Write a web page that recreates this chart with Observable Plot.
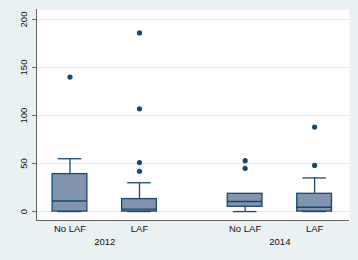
<!DOCTYPE html>
<html><head><meta charset="utf-8">
<script src="https://cdn.jsdelivr.net/npm/d3@7"></script>
<script src="https://cdn.jsdelivr.net/npm/@observablehq/plot@0.6"></script>
<style>
html,body{margin:0;padding:0;background:#e9f1f3;}
</style></head>
<body><div id="chart"></div>
<script>
const years = ["2012", "2014"];
const groups = ["No LAF", "LAF"];
// one entry per box: 2012 No LAF, 2012 LAF, 2014 No LAF, 2014 LAF
const q1 = [0, 0, 5, 0];
const medians = [11, 2.5, 10.5, 4.5];
const q3 = [39, 13, 18.5, 18.5];
const whiskerLo = [0, 0, 0, 0];
const whiskerHi = [55, 30, 18.5, 35];
const outliers = [[140], [186, 107, 51, 42], [53, 45], [88, 48]];
const yTicks = [0, 50, 100, 150, 200];

const GAP = 0.52; // extra space between year groups
const boxes = [];
years.forEach((yr, yi) => groups.forEach((g, gi) => {
  const i = yi * groups.length + gi;
  boxes.push({year: yr, group: g, pos: yi * (groups.length + GAP) + gi,
    q1: q1[i], med: medians[i], q3: q3[i], lo: whiskerLo[i], hi: whiskerHi[i]});
}));
const pts = [];
boxes.forEach((b, i) => outliers[i].forEach(v => pts.push({pos: b.pos, v})));
const yearCenters = years.map((yr, yi) => ({year: yr, pos: yi * (groups.length + GAP) + (groups.length - 1) / 2}));

const navy = "#1a476f";
const fill = "#8196ae";
const hw = 0.25, cw = 0.17;

const chart = Plot.plot({
  width: 358, height: 260,
  marginLeft: 36, marginRight: 9, marginTop: 9, marginBottom: 40,
  style: {background: "#e9f1f3", fontFamily: "'Liberation Sans', Arial, sans-serif", fontSize: "9.5px", color: "#111"},
  x: {type: "linear", domain: [-0.482, 4.022]},
  y: {domain: [-9.3, 210.4]},
  marks: [
    Plot.frame({fill: "white", stroke: "none"}),
    Plot.gridY(yTicks, {stroke: "#dde9ec", strokeOpacity: 1, strokeWidth: 1}),
    Plot.axisY(yTicks, {tickSize: 4, tickPadding: 6, tickRotate: -90, stroke: "#666", label: null, fill: "#111"}),
    Plot.axisX(boxes.map(b => b.pos), {tickSize: 0, tickPadding: 5, tickFormat: (d) => boxes.find(b => b.pos === d).group, label: null, fill: "#111"}),
    Plot.text(yearCenters, {x: "pos", text: "year", frameAnchor: "bottom", dy: 24, fill: "#111"}),
    Plot.ruleX(boxes, {x: "pos", y1: "q3", y2: "hi", stroke: navy, strokeWidth: 1.3}),
    Plot.ruleX(boxes, {x: "pos", y1: "lo", y2: "q1", stroke: navy, strokeWidth: 1.3}),
    Plot.ruleY(boxes, {y: "hi", x1: d => d.pos - cw, x2: d => d.pos + cw, stroke: navy, strokeWidth: 1.3}),
    Plot.ruleY(boxes, {y: "lo", x1: d => d.pos - cw, x2: d => d.pos + cw, stroke: navy, strokeWidth: 1.3}),
    Plot.rect(boxes, {x1: d => d.pos - hw, x2: d => d.pos + hw, y1: "q1", y2: "q3", fill: fill, stroke: navy, strokeWidth: 1.3}),
    Plot.ruleY(boxes, {y: "med", x1: d => d.pos - hw, x2: d => d.pos + hw, stroke: navy, strokeWidth: 1.3}),
    Plot.dot(pts, {x: "pos", y: "v", r: 2.6, fill: navy, stroke: "none"}),
    Plot.ruleX([-0.482], {stroke: "#666", strokeWidth: 1}),
    Plot.ruleY([-9.3], {stroke: "#666", strokeWidth: 1})
  ]
});
document.getElementById("chart").appendChild(chart);
</script></body></html>
